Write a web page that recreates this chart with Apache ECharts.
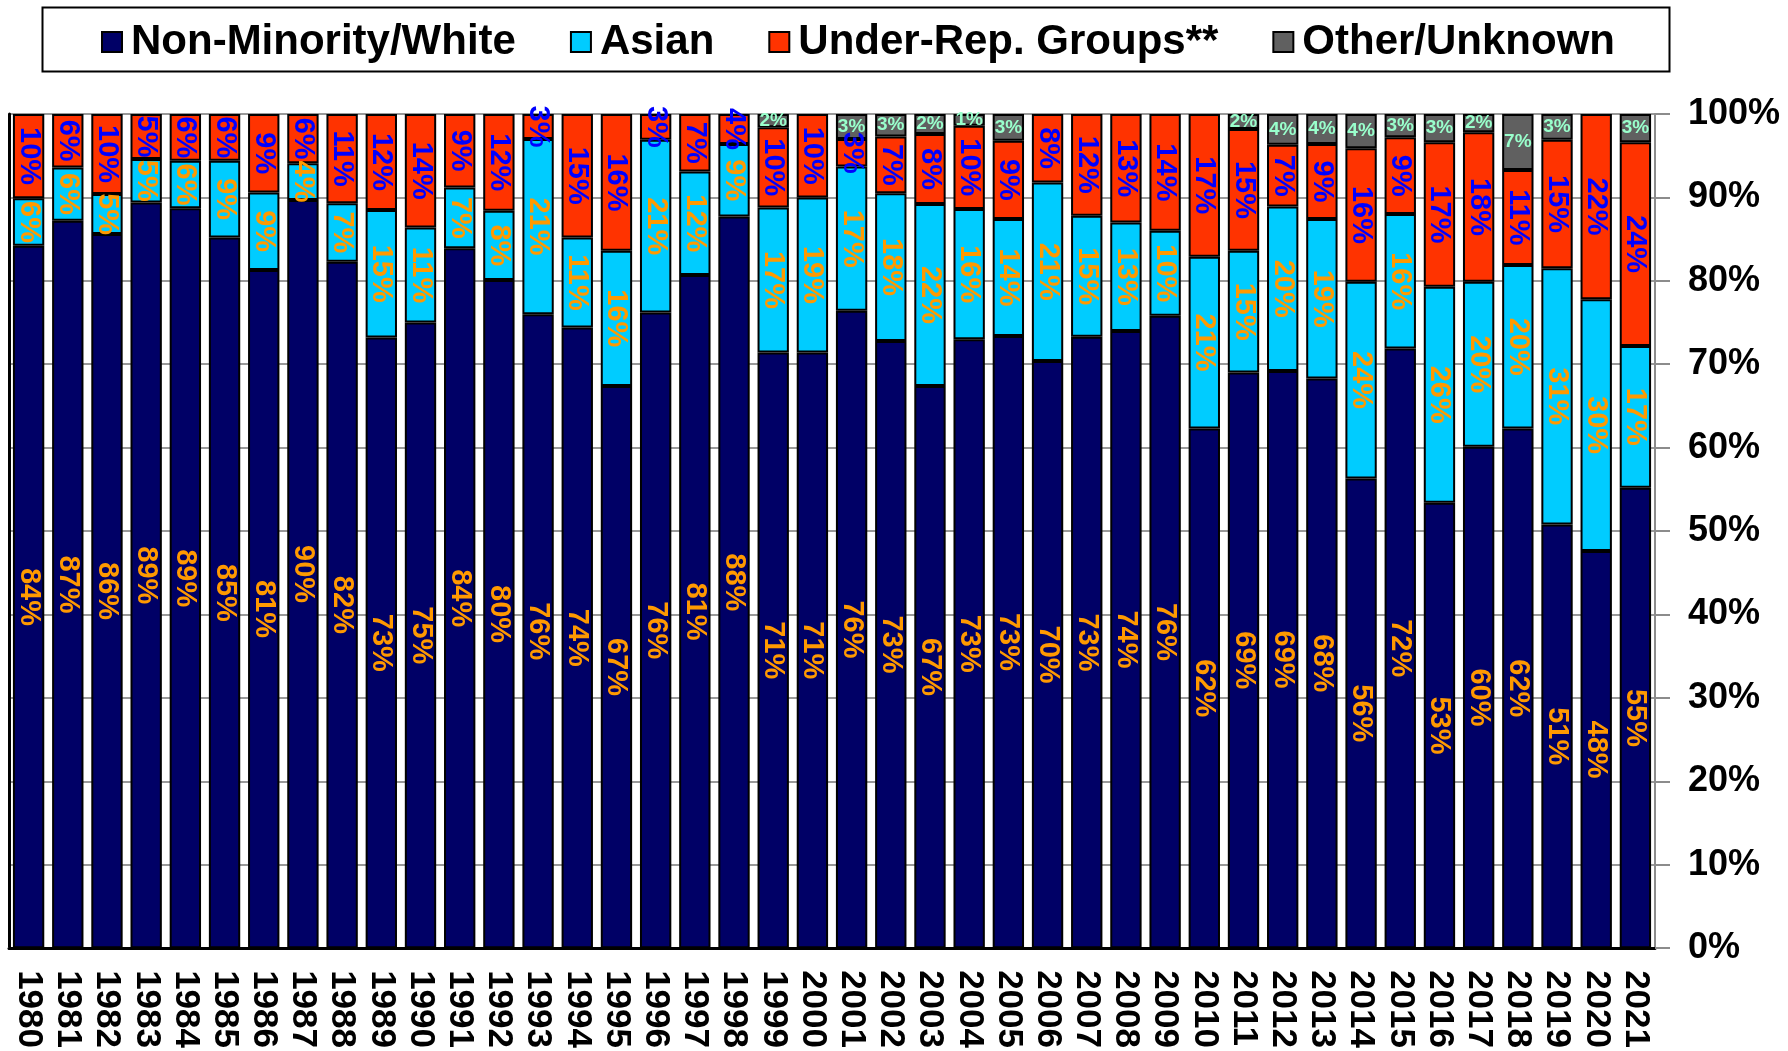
<!DOCTYPE html>
<html>
<head>
<meta charset="utf-8">
<script src="https://cdn.jsdelivr.net/npm/echarts@6/dist/echarts.min.js"></script>
<style>
html,body{margin:0;padding:0;background:#fff;}
#chart{width:1788px;height:1051px;}
</style>
</head>
<body>
<div id="chart"></div>
<script>
const years = ['1980','1981','1982','1983','1984','1985','1986','1987','1988','1989','1990','1991','1992','1993','1994','1995','1996','1997','1998','1999','2000','2001','2002','2003','2004','2005','2006','2007','2008','2009','2010','2011','2012','2013','2014','2015','2016','2017','2018','2019','2020','2021'];

const white = [84.2,87.2,85.6,89.4,88.7,85.2,81.3,89.7,82.3,73.2,75.0,83.9,80.1,76.0,74.4,67.4,76.2,80.7,87.7,71.4,71.4,76.4,72.8,67.4,73.0,73.4,70.4,73.3,74.0,75.8,62.3,69.0,69.2,68.3,56.3,71.9,53.4,60.1,62.3,50.8,47.6,55.2];

const asian = [5.7,6.4,4.8,5.2,5.7,9.2,9.3,4.4,7.0,15.3,11.4,7.3,8.3,21.0,10.8,16.2,20.7,12.4,8.7,17.4,18.6,17.3,17.7,21.8,15.6,14.0,21.4,14.5,13.0,10.2,20.6,14.6,19.7,19.1,23.6,16.1,25.9,19.8,19.6,30.7,30.2,17.0];

const underRep = [10.1,6.4,9.6,5.4,5.6,5.6,9.4,5.9,10.7,11.5,13.6,8.8,11.6,3.0,14.8,16.4,3.1,6.9,3.6,9.6,10.0,3.3,6.8,8.4,10.0,9.4,8.2,12.2,13.0,14.0,17.1,14.6,7.4,9.0,16.0,9.2,17.3,17.9,11.4,15.4,22.2,24.4];

const other = [null,null,null,null,null,null,null,null,null,null,null,null,null,null,null,null,null,null,null,1.6,null,3.0,2.7,2.4,1.4,3.2,null,null,null,null,null,1.8,3.7,3.6,4.1,2.8,3.4,2.2,6.7,3.1,null,3.4];

const yTicks = [0,10,20,30,40,50,60,70,80,90,100];

const FONT = 'Arial, "Liberation Sans", sans-serif';
const pct = p => (p.value == null ? '' : Math.round(p.value) + '%');

function rotLabel(color) {
  return {
    show: true, position: 'inside', rotate: -90,
    color: color, fontSize: 29, fontWeight: 'bold', fontFamily: FONT,
    formatter: pct
  };
}

const chart = echarts.init(document.getElementById('chart'), null, {renderer: 'canvas'});

const barBase = {
  type: 'bar', stack: 'total', barCategoryGap: '20%',
  xAxisIndex: 0, yAxisIndex: 0
};

chart.setOption({
  animation: false,
  backgroundColor: '#ffffff',
  graphic: [{
    type: 'rect', left: 40, top: 5,
    shape: {width: 1627, height: 64},
    style: {fill: 'none', stroke: '#000', lineWidth: 2}
  }],
  legend: {
    left: 96, top: 16,
    itemWidth: 20, itemHeight: 20, itemGap: 54,
    icon: 'rect',
    textStyle: {fontSize: 42, fontWeight: 'bold', fontFamily: FONT, color: '#000', padding: [0,0,0,4]},
    data: ['Non-Minority/White','Asian','Under-Rep. Groups**','Other/Unknown']
  },
  grid: {left: 9, right: 133, top: 114, bottom: 101, containLabel: false},
  xAxis: [{
    type: 'category', data: years, position: 'bottom',
    axisLine: {show: true, lineStyle: {color: '#8c8c8c', width: 2}},
    axisTick: {show: false},
    axisLabel: {rotate: -90, margin: 22, fontSize: 35, fontWeight: 'bold', fontFamily: FONT, color: '#000', interval: 0}
  }, {
    type: 'category', data: years, position: 'top',
    axisLine: {show: true, lineStyle: {color: '#000', width: 3}},
    axisTick: {show: false}, axisLabel: {show: false}
  }],
  yAxis: [{
    type: 'value', position: 'right', min: 0, max: 100, interval: 10,
    axisLine: {show: true, lineStyle: {color: '#8c8c8c', width: 2}},
    axisTick: {show: true, inside: false, length: 15, lineStyle: {color: '#8c8c8c', width: 2}},
    axisLabel: {margin: 33, fontSize: 36, fontWeight: 'bold', fontFamily: FONT, color: '#000', align: 'left',
      formatter: v => (yTicks.indexOf(v) >= 0 ? v + '%' : '')},
    splitLine: {show: true, lineStyle: {color: '#999999', width: 2}}
  }, {
    type: 'value', position: 'left', min: 0, max: 100, interval: 10,
    axisLine: {show: true, lineStyle: {color: '#000', width: 3}},
    axisTick: {show: false}, axisLabel: {show: false}, splitLine: {show: false}
  }],
  series: [
    Object.assign({}, barBase, {
      name: 'Non-Minority/White', data: white,
      itemStyle: {color: '#000066', borderColor: '#000', borderWidth: 2},
      label: rotLabel('#FF9900')
    }),
    Object.assign({}, barBase, {
      name: 'Asian', data: asian,
      itemStyle: {color: '#00CCFF', borderColor: '#000', borderWidth: 2},
      label: rotLabel('#FF9900')
    }),
    Object.assign({}, barBase, {
      name: 'Under-Rep. Groups**', data: underRep,
      itemStyle: {color: '#FF3300', borderColor: '#000', borderWidth: 2},
      label: rotLabel('#0000FF')
    }),
    Object.assign({}, barBase, {
      name: 'Other/Unknown', data: other,
      itemStyle: {color: '#606060', borderColor: '#000', borderWidth: 2},
      label: {show: true, position: 'inside', rotate: 0, color: '#99FFCC', fontSize: 19, fontWeight: 'bold', fontFamily: FONT, formatter: pct}
    })
  ]
});
</script>
</body>
</html>
